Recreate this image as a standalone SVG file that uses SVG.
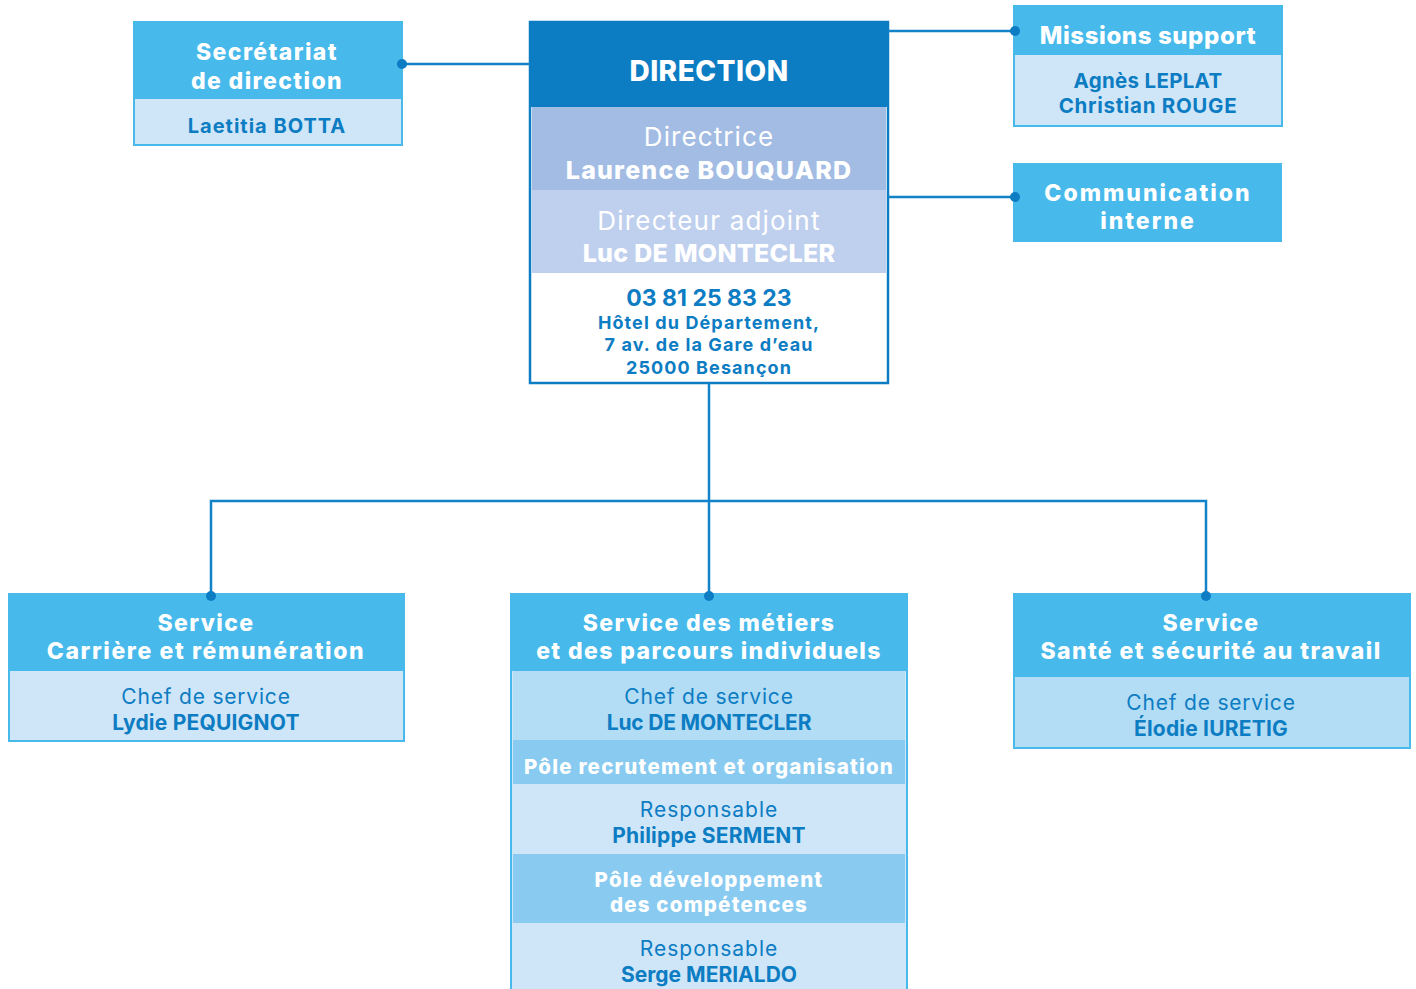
<svg xmlns="http://www.w3.org/2000/svg" width="1416" height="989" viewBox="0 0 1416 989">
<style>
text{font-family:Inter,"Open Sans","Liberation Sans",sans-serif;text-anchor:middle}
.h{fill:#fff;font-weight:800;letter-spacing:1.4px}
.w{fill:#fff;font-weight:400;letter-spacing:1.1px}
.n{fill:#0c7cc3;font-weight:700;letter-spacing:0.6px}
.r{fill:#0c7cc3;font-weight:400;letter-spacing:0.8px}
.ad{letter-spacing:1.1px}
.ln{stroke:#1283c8;stroke-width:2.5;fill:none}
.dot{fill:#0c7cc3}
</style>
<rect width="1416" height="989" fill="#fff"/>
<g id="secretariat">
<rect x="134" y="22" width="268" height="123" fill="#cfe6f8" stroke="#47b9eb" stroke-width="2"/>
<rect x="134" y="22" width="268" height="77" fill="#47b9eb"/>
<text class="h" x="267" y="60" font-size="23">Secrétariat</text>
<text class="h" x="267" y="89" font-size="23">de direction</text>
<text class="n" x="267" y="133" font-size="20" style="letter-spacing:1px">Laetitia BOTTA</text>
</g>
<g id="direction">
<rect x="530" y="22" width="358" height="361" fill="#fff" stroke="#0c7cc3" stroke-width="2.5"/>
<rect x="530" y="22" width="358" height="85" fill="#0c7cc3"/>
<rect x="532" y="107" width="354" height="83" fill="#a2bce3"/>
<rect x="532" y="190" width="354" height="83" fill="#bfd0ee"/>
<text class="h" x="709" y="81" font-size="28" style="letter-spacing:0.5px">DIRECTION</text>
<text class="w" x="709" y="146" font-size="26">Directrice</text>
<text class="h" x="709" y="179" font-size="25" style="letter-spacing:1.2px">Laurence BOUQUARD</text>
<text class="w" x="709" y="230" font-size="26" style="letter-spacing:1.2px">Directeur adjoint</text>
<text class="h" x="709" y="262" font-size="25" style="letter-spacing:0.3px">Luc DE MONTECLER</text>
<text class="n" x="709" y="306" font-size="23" font-weight="600" style="letter-spacing:0">03 81 25 83 23</text>
<text class="n ad" x="709" y="329" font-size="18">Hôtel du Département,</text>
<text class="n ad" x="709" y="351" font-size="18">7 av. de la Gare d’eau</text>
<text class="n ad" x="709" y="374" font-size="18">25000 Besançon</text>
</g>
<g id="missions">
<rect x="1014" y="6" width="268" height="120" fill="#cfe6f8" stroke="#47b9eb" stroke-width="2"/>
<rect x="1014" y="6" width="268" height="49" fill="#47b9eb"/>
<text class="h" x="1148" y="44" font-size="24" style="letter-spacing:0.6px">Missions support</text>
<text class="n" x="1148" y="88" font-size="20.5" style="letter-spacing:0.3px">Agnès LEPLAT</text>
<text class="n" x="1148" y="113" font-size="20.5" style="letter-spacing:0.7px">Christian ROUGE</text>
</g>
<g id="communication">
<rect x="1013" y="163" width="269" height="79" fill="#47b9eb"/>
<text class="h" x="1148" y="201" font-size="23" style="letter-spacing:2px">Communication</text>
<text class="h" x="1148" y="229" font-size="23" style="letter-spacing:2px">interne</text>
</g>
<g id="carriere">
<rect x="9" y="594" width="395" height="147" fill="#cfe6f8" stroke="#47b9eb" stroke-width="2"/>
<rect x="9" y="594" width="395" height="77" fill="#47b9eb"/>
<text class="h" x="206" y="631" font-size="23">Service</text>
<text class="h" x="206" y="659" font-size="23" style="letter-spacing:1.6px">Carrière et rémunération</text>
<text class="r" x="206" y="704" font-size="21">Chef de service</text>
<text class="n" x="206" y="730" font-size="21" style="letter-spacing:0.2px">Lydie PEQUIGNOT</text>
</g>
<g id="metiers">
<rect x="511" y="594" width="396" height="400" fill="#cfe6f8" stroke="#47b9eb" stroke-width="2"/>
<rect x="511" y="594" width="396" height="77" fill="#47b9eb"/>
<rect x="513" y="671" width="392" height="69" fill="#b3dcf5"/>
<rect x="513" y="740" width="392" height="44" fill="#89caf0"/>
<rect x="513" y="854" width="392" height="69" fill="#89caf0"/>
<text class="h" x="709" y="631" font-size="23">Service des métiers</text>
<text class="h" x="709" y="659" font-size="23">et des parcours individuels</text>
<text class="r" x="709" y="704" font-size="21">Chef de service</text>
<text class="n" x="709" y="730" font-size="21" style="letter-spacing:-0.2px">Luc DE MONTECLER</text>
<text class="h" x="709" y="774" font-size="20.5" style="letter-spacing:1.2px">Pôle recrutement et organisation</text>
<text class="r" x="709" y="817" font-size="21" style="letter-spacing:1px">Responsable</text>
<text class="n" x="709" y="843" font-size="21" style="letter-spacing:0.2px">Philippe SERMENT</text>
<text class="h" x="709" y="887" font-size="20.5" style="letter-spacing:1.2px">Pôle développement</text>
<text class="h" x="709" y="912" font-size="20.5" style="letter-spacing:1.2px">des compétences</text>
<text class="r" x="709" y="956" font-size="21" style="letter-spacing:1px">Responsable</text>
<text class="n" x="709" y="982" font-size="21" style="letter-spacing:0">Serge MERIALDO</text>
</g>
<g id="sante">
<rect x="1014" y="594" width="396" height="154" fill="#b3dcf5" stroke="#47b9eb" stroke-width="2"/>
<rect x="1014" y="594" width="396" height="83" fill="#47b9eb"/>
<text class="h" x="1211" y="631" font-size="23">Service</text>
<text class="h" x="1211" y="659" font-size="23">Santé et sécurité au travail</text>
<text class="r" x="1211" y="710" font-size="21">Chef de service</text>
<text class="n" x="1211" y="736" font-size="21" style="letter-spacing:0.2px">Élodie IURETIG</text>
</g>
<g id="connectors">
<path class="ln" d="M402 64H530"/>
<path class="ln" d="M888 31H1015"/>
<path class="ln" d="M888 197H1015"/>
<path class="ln" d="M709 383V596"/>
<path class="ln" d="M211 596V501H1206V596"/>
<circle class="dot" cx="402" cy="64" r="5"/>
<circle class="dot" cx="1015" cy="31" r="5"/>
<circle class="dot" cx="1015" cy="197" r="5"/>
<circle class="dot" cx="211" cy="596" r="5"/>
<circle class="dot" cx="709" cy="596" r="5"/>
<circle class="dot" cx="1206" cy="596" r="5"/>
</g>
</svg>
